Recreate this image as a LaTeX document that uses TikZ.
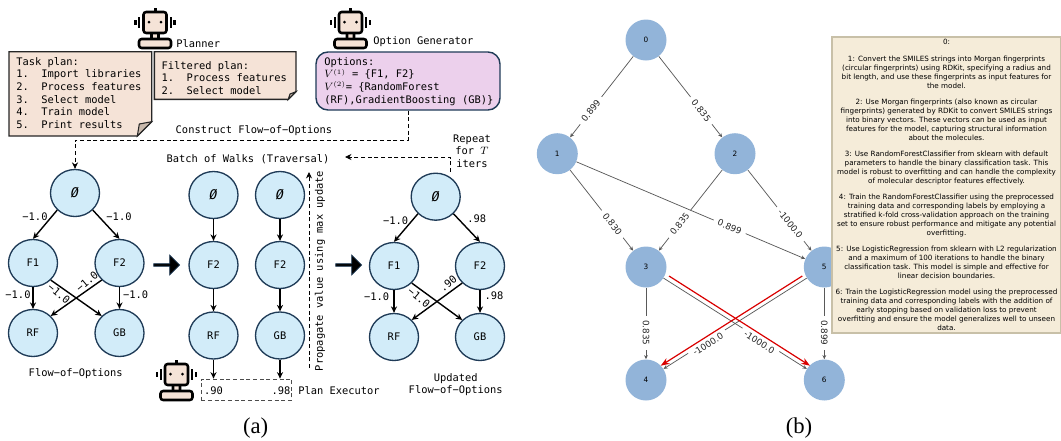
\documentclass[tikz,border=0pt]{standalone}
\usepackage{fontspec}
\setmainfont{Liberation Serif}
\setsansfont{DejaVu Sans}
\setmonofont{DejaVu Sans Mono}
\usetikzlibrary{calc,shapes,arrows.meta}
\tikzset{>={Stealth[width=1.6mm,length=1.7mm]}}
\definecolor{notefill}{HTML}{F5E3D7}
\definecolor{notegrey}{HTML}{C9B9AC}
\definecolor{optfill}{HTML}{ECD0EC}
\definecolor{navy}{HTML}{1F3B57}
\definecolor{treefill}{HTML}{D2ECF9}
\definecolor{graphfill}{HTML}{92B4D9}
\definecolor{txtfill}{HTML}{F5ECD9}
\definecolor{txtedge}{HTML}{C8C0A8}
\tikzset{robot/.pic={
    \draw[line width=1.9pt,fill=notefill,rounded corners=1pt] (-3.5,24) rectangle (3.5,32);
    \draw[line width=1.9pt,fill=notefill,rounded corners=2pt] (-16,31) rectangle (16,40);
    \draw[line width=1.9pt,fill=notefill,rounded corners=2pt] (-11.5,4) rectangle (11.5,25);
    \fill (-1.5,0) rectangle (1.5,4);
    \fill (-6,14) circle (1.5) (6,14) circle (1.5);
    \draw[line width=1.6pt] (-15.8,9) -- (-15.8,20) (15.8,9) -- (15.8,20);
    \draw[line width=1.6pt] (-19.5,12) -- (-19.5,17) (19.5,12) -- (19.5,17);
}}

\begin{document}
\begin{tikzpicture}[x=0.75pt,y=-0.75pt]
  \tikzstyle{monotxt} = [font=\ttfamily\fontsize{7.8}{9.5}\selectfont, inner sep=0pt, align=left]
  \tikzstyle{notebox} = [line width=1.05pt, draw=black!85, fill=notefill]
  \tikzstyle{notefold} = [line width=0.8pt, draw=black!85, fill=notegrey]
  \tikzstyle{tnode} = [ellipse, line width=1pt, draw=navy, fill=treefill, minimum width=36.75pt, minimum height=35.25pt, inner sep=0pt, font=\ttfamily\fontsize{7.8}{9.5}\selectfont]
  \tikzstyle{tedge} = [line width=1.05pt, ->]
  \tikzstyle{dedge} = [line width=0.6pt, densely dashed, ->]
  \tikzstyle{bigarrow} = [single arrow, draw=navy, fill=black, line width=0.6pt, minimum height=19.5pt, minimum width=15pt, single arrow head extend=2pt, inner sep=0pt]
  \tikzstyle{gnode} = [circle, fill=graphfill, minimum size=30.75pt, inner sep=0pt, font=\sffamily\fontsize{5.5}{6}\selectfont]
  \tikzstyle{gedge} = [line width=0.55pt, draw=black!65, -{Stealth[width=1mm,length=1.1mm]}]
  \tikzstyle{glabel} = [font=\sffamily\fontsize{6.6}{7}\selectfont, fill=white, inner xsep=3.5pt, inner ysep=1pt, pos=.67, sloped, text=black!85]
  \tikzstyle{redge} = [line width=0.9pt, draw=red!85!black, -{Stealth[width=1.7mm,length=2.3mm]}]

  \useasboundingbox (0,0) rectangle (1061,440);

  % (a) planner and option generator
  \pic at (155,8) {robot};
  \pic at (350.5,8) {robot};
  \node[monotxt, anchor=west] (plannerlbl) at (176,44) {Planner};
  \node[monotxt, anchor=west] (optgenlbl) at (373,42) {Option Generator};

  \draw[notebox] (9,51.7) -- (151.7,51.7) -- (151.7,121.7) -- (137.3,136) -- (9,136) -- cycle;
  \draw[notefold] (151.7,121.7) -- (137.3,136) -- (139.3,124) -- cycle;
  \node[monotxt, anchor=north west] (taskplan) at (16,57) {Task plan:\\1.~~Import libraries\\2.~~Process features\\3.~~Select model\\4.~~Train model\\5.~~Print results};

  \draw[notebox] (154.3,51.7) -- (296,51.7) -- (296,91.7) -- (288.3,99.3) -- (154.3,99.3) -- cycle;
  \draw[notefold] (296,91.7) -- (288.3,99.3) -- (290,94) -- cycle;
  \node[monotxt, anchor=north west] (filtered) at (161.3,61) {Filtered plan:\\1.~~Process features\\2.~~Select model};

  \node[line width=1.05pt, draw=navy, fill=optfill, rounded corners=9pt, minimum width=138pt, minimum height=43.5pt] (options) at (408,81) {};
  \node[monotxt, anchor=north west] (optionstxt) at (324,57) {Options:\\$V^{(1)}$ = \{F1, F2\}\\$V^{(2)}$= \{RandomForest\\(RF),GradientBoosting (GB)\}};

  \node[monotxt] (construct) at (254,131) {Construct Flow−of−Options};
  \node[monotxt] (batch) at (248,159) {Batch of Walks (Traversal)};
  \node[monotxt, align=center] (repeat) at (472,151) {Repeat\\for $T$\\iters};
  \coordinate (batchend) at (345,157);
  \coordinate (rptstart) at (450,172);
  \coordinate (flowbend) at (75,140);

  % flow of options
  \node[tnode] (root) at (75,193) {\itshape\fontsize{10}{12}\selectfont Ø};
  \node[tnode] (f1) at (33,263) {F1};
  \node[tnode] (f2) at (119.5,263) {F2};
  \node[tnode] (rf) at (33,333) {RF};
  \node[tnode] (gb) at (119.5,333) {GB};
  \draw[tedge] (root.south west) -- (f1.north);
  \draw[tedge] (root.south east) -- (f2.north);
  \draw[tedge] (f1.south) -- (rf.north);
  \draw[tedge] (f2.south) -- (gb.north);
  \draw[tedge] (f1.south east) -- (gb.north west);
  \draw[tedge] (f2.south west) -- (rf.north east);
  \node[monotxt] (l1) at (35,217) {−1.0};
  \node[monotxt] (l2) at (119,217) {−1.0};
  \node[monotxt] (l3) at (18,295) {−1.0};
  \node[monotxt] (l4) at (135.7,295) {−1.0};
  \node[monotxt, rotate=-40] (l5) at (59,294) {−1.0};
  \node[monotxt, rotate=40] (l6) at (87,282) {−1.0};
  \node[monotxt] (flowlbl) at (75.7,374) {Flow−of−Options};
  \draw[dedge] (options.south) |- (flowbend) -- (root.north);

  \node[bigarrow] (bigone) at (166,265) {};

  % batch of walks
  \node[tnode] (aroot) at (213.5,195) {\itshape\fontsize{10}{12}\selectfont Ø};
  \node[tnode] (af2) at (213.5,265) {F2};
  \node[tnode] (arf) at (213.5,335.5) {RF};
  \node[tnode] (broot) at (280,195) {\itshape\fontsize{10}{12}\selectfont Ø};
  \node[tnode] (bf2) at (280,265) {F2};
  \node[tnode] (bgb) at (280,335.5) {GB};
  \draw[tedge] (aroot) -- (af2);
  \draw[tedge] (af2) -- (arf);
  \draw[tedge] (broot) -- (bf2);
  \draw[tedge] (bf2) -- (bgb);
  \node[draw, line width=0.6pt, densely dashed, black!70, minimum width=68pt, minimum height=15.75pt, inner sep=0pt] (valbox) at (246.5,389.5) {};
  \node[monotxt] (val1) at (213.5,391) {.90};
  \node[monotxt] (val2) at (281,391) {.98};
  \draw[tedge] (arf.south) -- (arf.south |- valbox.north);
  \draw[tedge] (bgb.south) -- (bgb.south |- valbox.north);
  \pic at (176.5,360) {robot};
  \node[monotxt, anchor=west] (execlbl) at (298,390.7) {Plan Executor};
  \coordinate (propstart) at (309,368);
  \coordinate (propend) at (309,172);
  \draw[dedge] (propstart) -- (propend);
  \node[monotxt, rotate=90] (proplbl) at (320,271) {Propagate value using max update};

  \node[bigarrow] (bigtwo) at (348,265) {};

  % updated flow of options
  \node[tnode] (uroot) at (435.7,196.7) {\itshape\fontsize{10}{12}\selectfont Ø};
  \node[tnode] (uf1) at (394,266) {F1};
  \node[tnode] (uf2) at (480,266) {F2};
  \node[tnode] (urf) at (394,337) {RF};
  \node[tnode] (ugb) at (480,337) {GB};
  \draw[tedge] (uroot.south west) -- (uf1.north);
  \draw[tedge] (uroot.south east) -- (uf2.north);
  \draw[tedge] (uf1.south) -- (urf.north);
  \draw[tedge] (uf2.south) -- (ugb.north);
  \draw[tedge] (uf1.south east) -- (ugb.north west);
  \draw[tedge] (uf2.south west) -- (urf.north east);
  \node[monotxt] (u1) at (395.7,221) {−1.0};
  \node[monotxt] (u2) at (476.7,219) {.98};
  \node[monotxt] (u3) at (376.7,297) {−1.0};
  \node[monotxt] (u4) at (494,296) {.98};
  \node[monotxt, rotate=-40] (u5) at (419,297.7) {−1.0};
  \node[monotxt, rotate=40] (u6) at (448,284) {.90};
  \node[monotxt, align=center] (updlbl) at (455.7,384.5) {Updated\\Flow−of−Options};
  \draw[dedge] (rptstart) |- (batchend);

  \node[font=\fontsize{17}{18}\selectfont, inner sep=0pt] (capa) at (255.7,428) {(a)};

  % (b) graph
  \node[gnode] (n0) at (646,40) {0};
  \node[gnode] (n1) at (557.3,153.7) {1};
  \node[gnode] (n2) at (735,153.7) {2};
  \node[gnode] (n3) at (646,267) {3};
  \node[gnode] (n5) at (824.3,267) {5};
  \node[gnode] (n4) at (646,380) {4};
  \node[gnode] (n6) at (824.3,380) {6};
  \draw[gedge] (n0) -- node[glabel] {0.899} (n1);
  \draw[gedge] (n0) -- node[glabel] {0.835} (n2);
  \draw[gedge] (n1) -- node[glabel] {0.830} (n3);
  \draw[gedge] (n2) -- node[glabel] {0.835} (n3);
  \draw[gedge] (n2) -- node[glabel] {-1000.0} (n5);
  \draw[gedge] (n1) -- node[glabel] {0.899} (n5);
  \draw[gedge] (n3) -- node[glabel,pos=.63] {0.835} (n4);
  \draw[gedge] (n5) -- node[glabel,pos=.63] {0.899} (n6);
  \draw[gedge] (n3) -- node[glabel,pos=.68,yshift=-2.2pt] {-1000.0} (n6);
  \draw[gedge] (n5) -- node[glabel,pos=.70,yshift=-2.2pt] {-1000.0} (n4);
  \draw[redge] ([shift={(23,9)}]n3.center) -- ([shift={(-14.3,-14.3)}]n6.center);
  \draw[redge] ([shift={(-22,9)}]n5.center) -- ([shift={(14.7,-14.3)}]n4.center);

  \node[draw=txtedge, fill=txtfill, line width=1.1pt, minimum width=172pt, minimum height=222pt, inner sep=0pt, align=center, font=\sffamily\fontsize{5.4}{6.64}\selectfont] (plantxt) at (946.5,185) {0:\\[5.8pt]
1: Convert the SMILES strings into Morgan fingerprints\\
(circular fingerprints) using RDKit, specifying a radius and\\
bit length, and use these fingerprints as input features for\\
the model.\\[5.8pt]
2: Use Morgan fingerprints (also known as circular\\
fingerprints) generated by RDKit to convert SMILES strings\\
into binary vectors. These vectors can be used as input\\
features for the model, capturing structural information\\
about the molecules.\\[5.8pt]
3: Use RandomForestClassifier from sklearn with default\\
parameters to handle the binary classification task. This\\
model is robust to overfitting and can handle the complexity\\
of molecular descriptor features effectively.\\[5.8pt]
4: Train the RandomForestClassifier using the preprocessed\\
training data and corresponding labels by employing a\\
stratified k-fold cross-validation approach on the training\\
set to ensure robust performance and mitigate any potential\\
overfitting.\\[5.8pt]
5: Use LogisticRegression from sklearn with L2 regularization\\
and a maximum of 100 iterations to handle the binary\\
classification task. This model is simple and effective for\\
linear decision boundaries.\\[5.8pt]
6: Train the LogisticRegression model using the preprocessed\\
training data and corresponding labels with the addition of\\
early stopping based on validation loss to prevent\\
overfitting and ensure the model generalizes well to unseen\\
data.};

  \node[font=\fontsize{17}{18}\selectfont, inner sep=0pt] (capb) at (799,428) {(b)};
\end{tikzpicture}
\end{document}
